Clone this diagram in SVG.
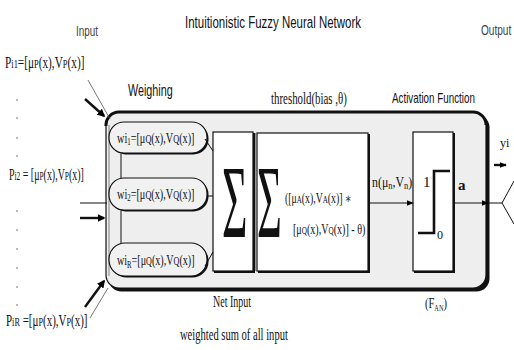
<svg xmlns="http://www.w3.org/2000/svg" width="514" height="350" viewBox="0 0 514 350">
  <defs>
    <marker id="ah" viewBox="0 0 10 10" refX="9" refY="5" markerWidth="7" markerHeight="7" orient="auto" markerUnits="userSpaceOnUse">
      <path d="M0,1 L10,5 L0,9 Z" fill="#000"/>
    </marker>
    <marker id="ahb" viewBox="0 0 10 10" refX="8" refY="5" markerWidth="8" markerHeight="8" orient="auto" markerUnits="userSpaceOnUse">
      <path d="M0,0 L10,5 L0,10 Z" fill="#000"/>
    </marker>
  </defs>
  <style>
    .serif { font-family: "Liberation Serif", "DejaVu Serif", serif; fill: #111; }
    .sans { font-family: "Liberation Sans", "DejaVu Sans", sans-serif; fill: #111; }
    .light { font-family: "Liberation Sans", "DejaVu Sans", sans-serif; fill: #444; }
    .pill { fill: #f1f1f1; stroke: #111; stroke-width: 1.2; }
    .pillShadow { fill: #111; }
    .box { fill: #fff; stroke: #111; stroke-width: 1.2; }
    .boxShadow { fill: #111; }
    .wire { stroke: #111; stroke-width: 1; fill: none; }
    .thick { stroke: #111; stroke-width: 2.4; fill: none; }
    .thin { stroke: #555; stroke-width: 0.8; fill: none; }
    .dot { fill: #666; }
  </style>

  <rect width="514" height="350" fill="#fff"/>

  <!-- headings (narrow lettering via horizontal scaling) -->
  <text class="sans" transform="translate(185,28) scale(0.675,1)" font-size="17">Intuitionistic Fuzzy Neural Network</text>
  <text class="light" transform="translate(76,36) scale(0.707,1)" font-size="14">Input</text>
  <text class="light" transform="translate(481,35) scale(0.72,1)" font-size="14">Output</text>

  <!-- neuron enclosure -->
  <g id="neuron">
    <rect x="108.5" y="114.5" width="381" height="177" rx="13" fill="#111"/>
    <rect x="106" y="112" width="380" height="176" rx="13" fill="#eeeeee" stroke="#111" stroke-width="1.2"/>
    <path d="M106,126 A13,13 0 0 1 119,112 L473,112 A13,13 0 0 1 486,125" fill="none" stroke="#111" stroke-width="3"/>
    <line x1="109" y1="125" x2="109" y2="276" stroke="#555" stroke-width="0.7"/>
  </g>

  <text class="sans" transform="translate(128,96) scale(0.635,1)" font-size="17">Weighing</text>
  <text class="serif" transform="translate(271,104) scale(0.68,1)" font-size="16">threshold(bias ,θ)</text>
  <text class="sans" transform="translate(392,103) scale(0.655,1)" font-size="15">Activation Function</text>

  <!-- inputs -->
  <g id="input-1">
    <text class="serif" transform="translate(5,68) scale(0.705,1)" font-size="16">P<tspan font-size="12">i1</tspan>=[μ<tspan font-size="12">P</tspan>(x),V<tspan font-size="12">P</tspan>(x)]</text>
  </g>
  <g id="input-2">
    <text class="serif" transform="translate(9,180) scale(0.62,1)" font-size="16">P<tspan font-size="12">i2</tspan> = [μ<tspan font-size="12">P</tspan>(x),V<tspan font-size="12">P</tspan>(x)]</text>
  </g>
  <g id="input-R">
    <text class="serif" transform="translate(6,326) scale(0.687,1)" font-size="16">P<tspan font-size="12">iR</tspan> =[μ<tspan font-size="12">P</tspan>(x),V<tspan font-size="12">P</tspan>(x)]</text>
  </g>

  <!-- ellipsis dots between inputs -->
  <g id="dots">
    <circle class="dot" cx="17" cy="100" r="0.8"/>
    <circle class="dot" cx="17" cy="118" r="0.8"/>
    <circle class="dot" cx="17" cy="138" r="0.8"/>
    <circle class="dot" cx="17" cy="156" r="0.8"/>
    <circle class="dot" cx="17" cy="211" r="0.8"/>
    <circle class="dot" cx="17" cy="230" r="0.8"/>
    <circle class="dot" cx="17" cy="249" r="0.8"/>
    <circle class="dot" cx="17" cy="268" r="0.8"/>
    <circle class="dot" cx="17" cy="287" r="0.8"/>
    <circle class="dot" cx="17" cy="305" r="0.8"/>
  </g>

  <!-- weights -->
  <g id="weight-1">
    <rect class="pillShadow" x="110.5" y="123.5" width="98" height="31" rx="15"/>
    <rect class="pill" x="109" y="122" width="98" height="31" rx="15"/>
    <text class="serif" transform="translate(117,143) scale(0.684,1)" font-size="15">wi<tspan font-size="10" dy="2">1</tspan><tspan dy="-2">=[μ</tspan><tspan font-size="12">Q</tspan>(x),V<tspan font-size="12">Q</tspan>(x)]</text>
  </g>
  <g id="weight-2">
    <rect class="pillShadow" x="110.5" y="179.5" width="98" height="32" rx="15"/>
    <rect class="pill" x="109" y="178" width="98" height="32" rx="15"/>
    <text class="serif" transform="translate(117,199) scale(0.684,1)" font-size="15">wi<tspan font-size="10" dy="2">2</tspan><tspan dy="-2">=[μ</tspan><tspan font-size="12">Q</tspan>(x),V<tspan font-size="12">Q</tspan>(x)]</text>
  </g>
  <g id="weight-R">
    <rect class="pillShadow" x="110.5" y="244.5" width="98" height="33" rx="16"/>
    <rect class="pill" x="109" y="243" width="98" height="33" rx="16"/>
    <text class="serif" transform="translate(117,265) scale(0.674,1)" font-size="15">wi<tspan font-size="10" dy="3">R</tspan><tspan dy="-3">=[μ</tspan><tspan font-size="12">Q</tspan>(x),V<tspan font-size="12">Q</tspan>(x)]</text>
  </g>

  <!-- summation -->
  <g id="net-input">
    <rect class="boxShadow" x="214" y="133" width="41" height="140"/>
    <rect class="box" x="213" y="132" width="40" height="139"/>
    <text class="serif" transform="translate(222,237) scale(0.42,1)" font-size="104">Σ</text>
  </g>

  <!-- threshold -->
  <g id="threshold">
    <rect class="boxShadow" x="258" y="134" width="112" height="139"/>
    <rect class="box" x="257" y="133" width="111" height="138"/>
    <line x1="255" y1="133" x2="255" y2="271" stroke="#111" stroke-width="0.8"/>
    <text class="serif" transform="translate(257,237) scale(0.41,1)" font-size="104">Σ</text>
    <text class="serif" transform="translate(285,203) scale(0.70,1)" font-size="14">([μ<tspan font-size="10">A</tspan>(x),V<tspan font-size="10">A</tspan>(x)] ∗</text>
    <text class="serif" transform="translate(293,234) scale(0.72,1)" font-size="14">[μ<tspan font-size="10">Q</tspan>(x),V<tspan font-size="10">Q</tspan>(x)] - θ)</text>
  </g>

  <!-- activation -->
  <g id="activation">
    <rect class="boxShadow" x="414" y="133" width="41" height="140"/>
    <rect class="box" x="413" y="132" width="40" height="139"/>
    <path d="M418,233 L434,233 L434,171 L450,171" fill="none" stroke="#111" stroke-width="2.6"/>
    <text class="serif" x="423" y="187" font-size="15">1</text>
    <text class="serif" x="437" y="239" font-size="12">0</text>
  </g>

  <text class="serif" x="458" y="190" font-size="15" font-weight="bold">a</text>

  <text class="serif" transform="translate(213,307) scale(0.624,1)" font-size="16">Net Input</text>
  <text class="serif" transform="translate(180,340) scale(0.66,1)" font-size="16">weighted sum of all input</text>
  <text class="serif" transform="translate(425,308) scale(0.70,1)" font-size="15">(F<tspan font-size="9" dy="3">AN</tspan><tspan dy="-3">)</tspan></text>
  <text class="serif" transform="translate(372,187) scale(0.85,1)" font-size="14">n(μ<tspan font-size="10" dy="2">n</tspan><tspan dy="-2">,V</tspan><tspan font-size="10" dy="2">n</tspan><tspan dy="-2">)</tspan></text>
  <text class="serif" x="500" y="147" font-size="12">yi</text>

  <!-- connectors -->
  <g id="connectors">
    <!-- input arrows -->
    <line class="thick" x1="85" y1="99" x2="104" y2="116" marker-end="url(#ahb)"/>
    <line class="thin" x1="88" y1="80" x2="110" y2="119"/>
    <line class="wire" x1="80" y1="203" x2="107" y2="203"/>
    <line class="thick" x1="80" y1="218" x2="104" y2="218" marker-end="url(#ahb)"/>
    <line class="thick" x1="85" y1="307" x2="104" y2="281" marker-end="url(#ahb)"/>
    <line class="thin" x1="90" y1="318" x2="108" y2="288"/>

    <!-- weight chain -->
    <line class="wire" x1="121" y1="154" x2="121" y2="178"/>
    <line class="wire" x1="121" y1="211" x2="121" y2="243"/>

    <!-- weights into summation -->
    <line class="wire" x1="205" y1="139" x2="213" y2="151"/>
    <line class="wire" x1="207" y1="196" x2="213" y2="196"/>
    <line class="wire" x1="205" y1="266" x2="213" y2="252"/>

    <!-- net value into activation -->
    <line class="wire" x1="368" y1="203" x2="413" y2="203" marker-end="url(#ah)"/>

    <!-- output -->
    <line class="wire" x1="453" y1="203" x2="488" y2="203" marker-end="url(#ah)"/>
    <line class="wire" x1="488" y1="203" x2="502" y2="203"/>
    <line class="wire" x1="502" y1="203" x2="514" y2="181"/>
    <line class="wire" x1="502" y1="203" x2="514" y2="224"/>
    <line class="thick" x1="494" y1="165" x2="506" y2="165" stroke-width="1.6" marker-end="url(#ah)"/>
  </g>
</svg>
